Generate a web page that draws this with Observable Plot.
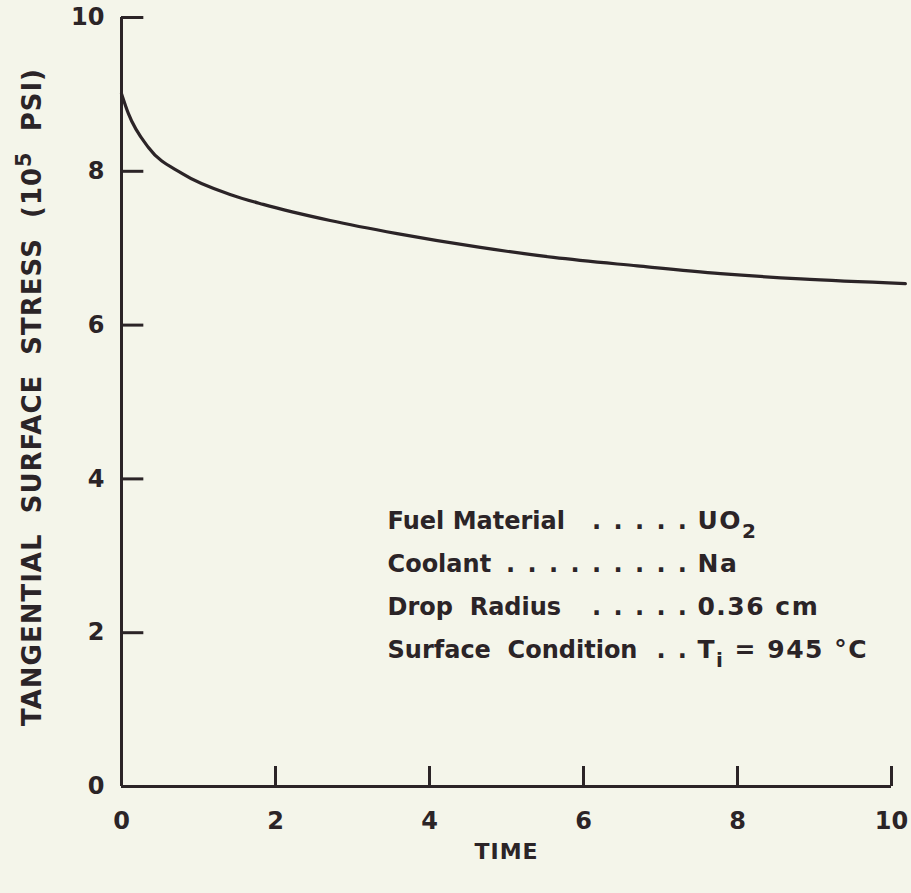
<!DOCTYPE html>
<html>
<head>
<meta charset="utf-8">
<script src="https://cdn.jsdelivr.net/npm/d3@7"></script>
<script src="https://cdn.jsdelivr.net/npm/@observablehq/plot@0.6"></script>
<style>
  html, body { margin: 0; padding: 0; background: #f4f5ea; }
  #chart svg { display: block; }
  #chart text { white-space: pre; }
</style>
</head>
<body>
<div id="chart"></div>
<script>
// Tangential surface stress of a UO2 drop quenched in sodium
const time   = [0, 0.09, 0.35, 0.79, 1.44, 1.84, 2.71, 3.58, 4.66, 5.61, 6.70, 7.78, 8.82, 10.18];
const stress = [9.01, 8.75, 8.31, 7.97, 7.69, 7.57, 7.36, 7.19, 7.01, 6.88, 6.77, 6.67, 6.60, 6.54];

const xTicks = [0, 2, 4, 6, 8, 10];
const yTicks = [0, 2, 4, 6, 8, 10];

const xTitle = "TIME";
const yTitle = "TANGENTIAL  SURFACE  STRESS  (10⁵  PSI)";

// Case parameters listed inside the plot
const paramNames  = ["Fuel Material", "Coolant", "Drop  Radius", "Surface  Condition"];
const leaderDots  = [5, 9, 5, 2];
const paramValues = ["UO₂", "Na", "0.36 cm", "Tᵢ = 945 °C"];

const ink = "#2b2427";
const paper = "#f4f5ea";
const font = "DejaVu Sans";

const curve = time.map((t, i) => ({t, s: stress[i]}));
const rows = paramNames.map((name, i) => ({
  name,
  dots: Array(leaderDots[i]).fill(".").join(" "),
  value: paramValues[i],
  row: i
}));
// layout of the parameter table, in data units
const tableX = 3.455, dotsEndX = 7.37, valueX = 7.48;
const rowY = r => 3.45 - 0.56 * r;

const plot = Plot.plot({
  width: 911,
  height: 893,
  marginLeft: 121,
  marginRight: 20,
  marginTop: 17,
  marginBottom: 107,
  style: {background: paper, color: ink, fontFamily: font, overflow: "visible"},
  x: {domain: [0, 10]},
  y: {domain: [0, 10]},
  marks: [
    // axis lines
    Plot.ruleX([0], {y1: 0, y2: 10, stroke: ink, strokeWidth: 3}),
    Plot.ruleY([0], {x1: 0, x2: 10, stroke: ink, strokeWidth: 3}),
    // inward tick marks
    Plot.ruleX(xTicks, {y1: 0, y2: 0.26, stroke: ink, strokeWidth: 3}),
    Plot.ruleY(yTicks, {x1: 0, x2: 0.29, stroke: ink, strokeWidth: 3}),
    // tick labels
    Plot.axisX({ticks: xTicks, tickSize: 0, tickPadding: 25, label: null, fontSize: 24, fontWeight: "bold", tickFormat: d => String(d)}),
    Plot.axisY({ticks: yTicks, tickSize: 0, tickPadding: 17, label: null, fontSize: 24, fontWeight: "bold", tickFormat: d => String(d)}),
    // axis titles
    Plot.text([xTitle], {frameAnchor: "bottom", dy: 72, fontSize: 22, fontWeight: "bold", fill: ink}),
    Plot.text([yTitle], {frameAnchor: "left", textAnchor: "middle", dx: -89, dy: -5, rotate: -90, fontSize: 26, fontWeight: "bold", fill: ink}),
    // stress curve
    Plot.line(curve, {x: "t", y: "s", curve: "monotone-x", stroke: ink, strokeWidth: 3.2}),
    // parameter table
    Plot.text(rows, {x: tableX, y: d => rowY(d.row), text: "name", textAnchor: "start", fontSize: 24, fontWeight: "bold", fill: ink}),
    Plot.text(rows, {x: dotsEndX, y: d => rowY(d.row), text: "dots", textAnchor: "end", fontSize: 24, fontWeight: "bold", fill: ink}),
    Plot.text(rows, {x: valueX, y: d => rowY(d.row), text: "value", textAnchor: "start", fontSize: 25, fontWeight: "bold", fill: ink})
  ]
});

// Letter spacing for the titles and the parameter table
const spacing = new Map([[yTitle, "1px"], [xTitle, "1px"]]);
rows.forEach(r => { spacing.set(r.dots, "2px"); spacing.set(r.value, "1.5px"); });
d3.select(plot).selectAll("text").each(function() {
  const ls = spacing.get(this.textContent);
  if (ls) this.style.letterSpacing = ls;
});

// Render subscript / superscript characters as shifted tspans
const shifts = {"₂": ["2", 9], "ᵢ": ["i", 9], "⁵": ["5", -10]};
d3.select(plot).selectAll("text").each(function() {
  const el = d3.select(this);
  const txt = this.textContent;
  if (![...txt].some(c => shifts[c])) return;
  el.text(null);
  let buf = "", back = 0;
  const flush = () => {
    if (buf) {
      const t = el.append("tspan").text(buf);
      if (back) t.attr("dy", back);
      buf = ""; back = 0;
    }
  };
  for (const c of txt) {
    if (shifts[c]) {
      flush();
      const [ch, dy] = shifts[c];
      el.append("tspan").attr("dy", dy + back).attr("font-size", "0.8em").text(ch);
      back = -dy;
    } else buf += c;
  }
  flush();
});

document.getElementById("chart").appendChild(plot);
</script>
</body>
</html>
